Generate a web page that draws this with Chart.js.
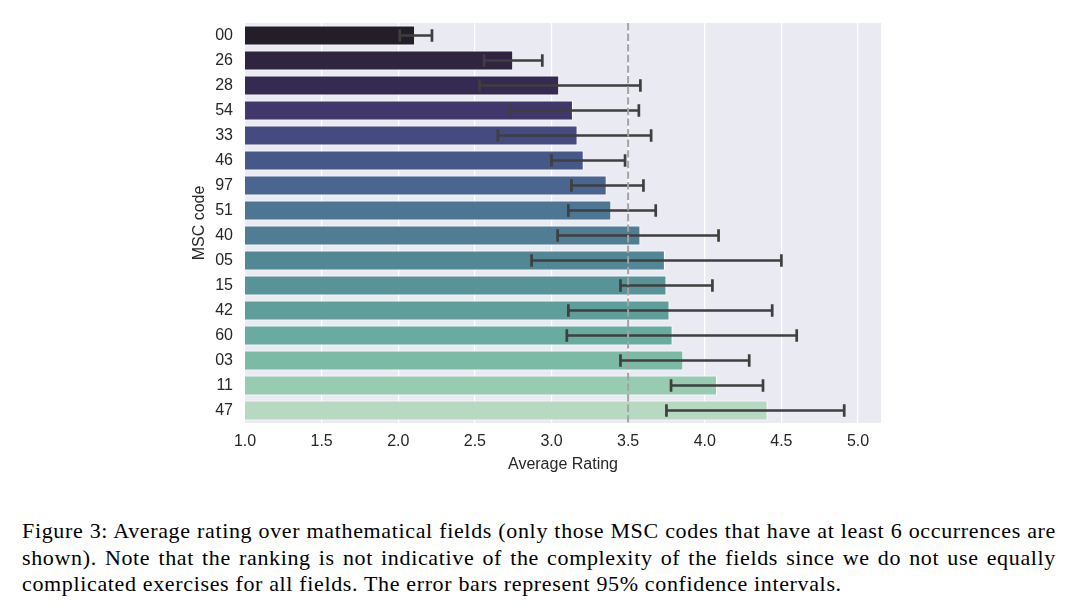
<!DOCTYPE html>
<html>
<head>
<meta charset="utf-8">
<script src="https://cdn.jsdelivr.net/npm/chart.js@4"></script>
<style>
  html, body { margin: 0; padding: 0; background: #ffffff; }
  body { width: 1080px; height: 615px; position: relative; overflow: hidden; }
  #wrap { position: absolute; left: 0; top: 0; width: 1080px; height: 482px; }
  #caption { position: absolute; left: 22px; top: 518px; width: 1034px;
    font-family: "Liberation Serif", "DejaVu Serif", serif; font-size: 22px; letter-spacing: 0.65px;
    color: #000; line-height: 26.5px; }
  .ln { white-space: nowrap; text-align: justify; text-align-last: justify; }
  .ln.last { text-align-last: left; }
</style>
</head>
<body>
<div id="wrap"><canvas id="c"></canvas></div>
<div id="caption">
  <div class="ln">Figure 3: Average rating over mathematical fields (only those MSC codes that have at least 6 occurrences are</div>
  <div class="ln">shown). Note that the ranking is not indicative of the complexity of the fields since we do not use equally</div>
  <div class="ln last">complicated exercises for all fields. The error bars represent 95% confidence intervals.</div>
</div>
<script>
const categories = ["00","26","28","54","33","46","97","51","40","05","15","42","60","03","11","47"];
const meanRating = [2.11, 2.75, 3.05, 3.14, 3.17, 3.21, 3.36, 3.39, 3.58, 3.74, 3.75, 3.77, 3.79, 3.86, 4.08, 4.41];
const ciLow      = [2.01, 2.56, 2.53, 2.73, 2.65, 3.00, 3.13, 3.11, 3.04, 2.87, 3.45, 3.11, 3.10, 3.45, 3.78, 3.75];
const ciHigh     = [2.22, 2.94, 3.58, 3.57, 3.65, 3.48, 3.60, 3.68, 4.09, 4.50, 4.05, 4.44, 4.60, 4.29, 4.38, 4.91];
const barColors  = ["#231e29","#2f2540","#352b52","#41376a","#454a80","#465888","#4a6690","#4d7594",
                    "#507d94","#528896","#589398","#5e9e9b","#68ac9f","#7bbba6","#97cbb2","#b8d9c1"];
const xTicks = [1.0, 1.5, 2.0, 2.5, 3.0, 3.5, 4.0, 4.5, 5.0];
const refLine = 3.5;

const bgPlugin = {
  id: 'bg',
  beforeDraw(chart) {
    const {ctx, chartArea: a} = chart;
    ctx.save();
    ctx.fillStyle = '#eaeaf2';
    ctx.fillRect(a.left, a.top, a.right - a.left, a.bottom - a.top);
    ctx.restore();
  }
};

const errPlugin = {
  id: 'err',
  afterDatasetsDraw(chart) {
    const {ctx, scales: {x, y}, chartArea: a} = chart;
    ctx.save();
    ctx.strokeStyle = '#3f3f3f';
    ctx.lineWidth = 2.7;
    ctx.lineCap = 'butt';
    categories.forEach((c, i) => {
      const yp = y.getPixelForValue(i);
      const x1 = x.getPixelForValue(ciLow[i]);
      const x2 = x.getPixelForValue(ciHigh[i]);
      ctx.beginPath();
      ctx.moveTo(x1, yp); ctx.lineTo(x2, yp);
      ctx.moveTo(x1, yp - 6.3); ctx.lineTo(x1, yp + 6.3);
      ctx.moveTo(x2, yp - 6.3); ctx.lineTo(x2, yp + 6.3);
      ctx.stroke();
    });
    const xr = x.getPixelForValue(refLine);
    ctx.strokeStyle = '#a3a3a3';
    ctx.lineWidth = 2;
    ctx.setLineDash([7.4, 3.2]);
    ctx.beginPath();
    ctx.moveTo(xr, a.top); ctx.lineTo(xr, a.bottom);
    ctx.stroke();
    ctx.restore();
  }
};

const font = { family: '"Liberation Sans", Arial, sans-serif', size: 16 };

new Chart(document.getElementById('c'), {
  type: 'bar',
  data: {
    labels: categories,
    datasets: [{
      data: meanRating,
      backgroundColor: barColors,
      borderColor: '#ffffff',
      borderWidth: 1,
      borderSkipped: false,
      categoryPercentage: 0.8,
      barPercentage: 1.0
    }]
  },
  options: {
    indexAxis: 'y',
    responsive: true,
    maintainAspectRatio: false,
    animation: false,
    events: [],
    layout: { padding: { left: 0, right: 199, top: 23, bottom: 0 } },
    plugins: { legend: { display: false }, tooltip: { enabled: false } },
    scales: {
      x: {
        type: 'linear',
        min: 1.0,
        max: 5.15,
        afterBuildTicks(scale) { scale.ticks = xTicks.map(v => ({ value: v })); },
        afterFit(scale) { scale.height = 59; },
        grid: { color: '#ffffff', lineWidth: 1.2, drawTicks: false },
        border: { display: false },
        ticks: { color: '#262626', font, padding: 9, maxRotation: 0,
                 callback: (v) => Number(v).toFixed(1) },
        title: { display: true, text: 'Average Rating', color: '#262626', font,
                 padding: { top: 0, bottom: 8 } }
      },
      y: {
        type: 'category',
        afterFit(scale) { scale.width = 245; },
        grid: { display: false, drawTicks: false },
        border: { display: false },
        ticks: { color: '#262626', font, padding: 12, autoSkip: false },
        title: { display: true, text: 'MSC code', color: '#262626', font,
                 padding: { top: 190, bottom: 0 } }
      }
    }
  },
  plugins: [bgPlugin, errPlugin]
});
</script>
</body>
</html>
